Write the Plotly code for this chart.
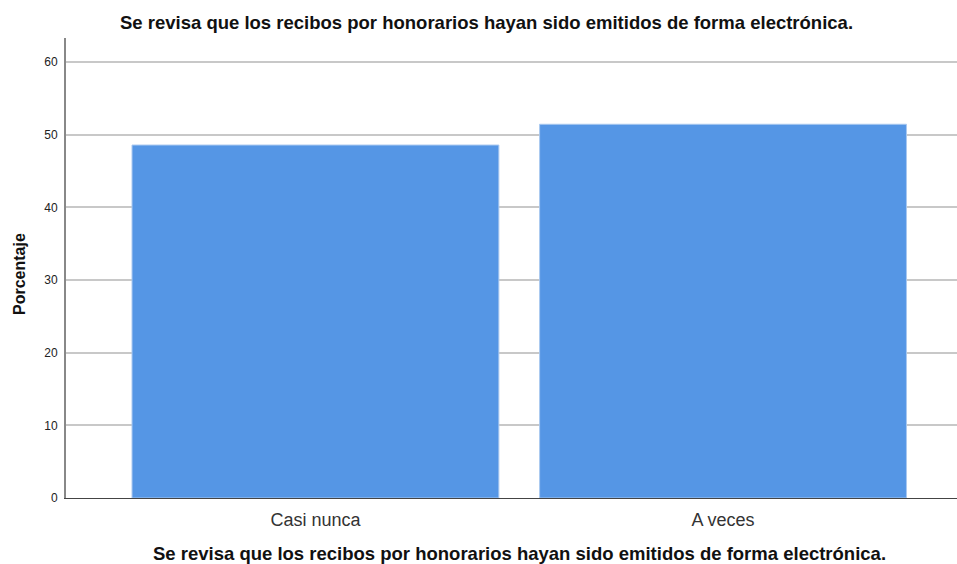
import plotly.graph_objects as go

categories = ["Casi nunca", "A veces"]
values = [48.57, 51.43]
y_ticks = [0, 10, 20, 30, 40, 50, 60]
title_text = "Se revisa que los recibos por honorarios hayan sido emitidos de forma electrónica."
y_title = "Porcentaje"

fig = go.Figure(go.Bar(
    x=[0, 1], y=values,
    marker=dict(color="#5596E5", line=dict(color="#A9C8F0", width=1)),
    width=0.9,
))

fig.update_layout(
    width=957, height=564,
    margin=dict(l=66, r=0, t=38, b=66),
    paper_bgcolor="white", plot_bgcolor="white",
    font=dict(family="Liberation Sans, Arial, sans-serif", color="#222"),
    showlegend=False,
    xaxis=dict(
        range=[-0.612, 1.574],
        tickvals=[0, 1], ticktext=categories,
        tickfont=dict(size=18, color="#333"),
        showgrid=False, zeroline=False,
        showline=True, linecolor="#444", linewidth=1,
        ticks="", ticklabelstandoff=5,
    ),
    yaxis=dict(
        range=[0, 63.3],
        tickvals=y_ticks,
        tickfont=dict(size=12, color="#222"),
        showgrid=True, gridcolor="#C8C8C8", gridwidth=1.5,
        zeroline=False,
        showline=True, linecolor="#888", linewidth=2,
        ticks="", ticklabelstandoff=4,
    ),
    annotations=[
        dict(text="<b>" + title_text + "</b>", xref="paper", yref="paper",
             x=0.472, y=1, yshift=3, yanchor="bottom", xanchor="center",
             showarrow=False, font=dict(size=18.5, color="#111")),
        dict(text="<b>" + title_text + "</b>", xref="paper", yref="paper",
             x=0.509, y=0, yshift=-43, yanchor="top", xanchor="center",
             showarrow=False, font=dict(size=18.5, color="#111")),
        dict(text="<b>" + y_title + "</b>", xref="paper", yref="paper",
             x=0, xshift=-47, y=0.5, yshift=-6, textangle=-90, xanchor="center", yanchor="middle",
             showarrow=False, font=dict(size=16, color="#111")),
    ],
)

fig.write_html("out.html", config={"displayModeBar": False},
               post_script="document.body.style.margin='0';")
